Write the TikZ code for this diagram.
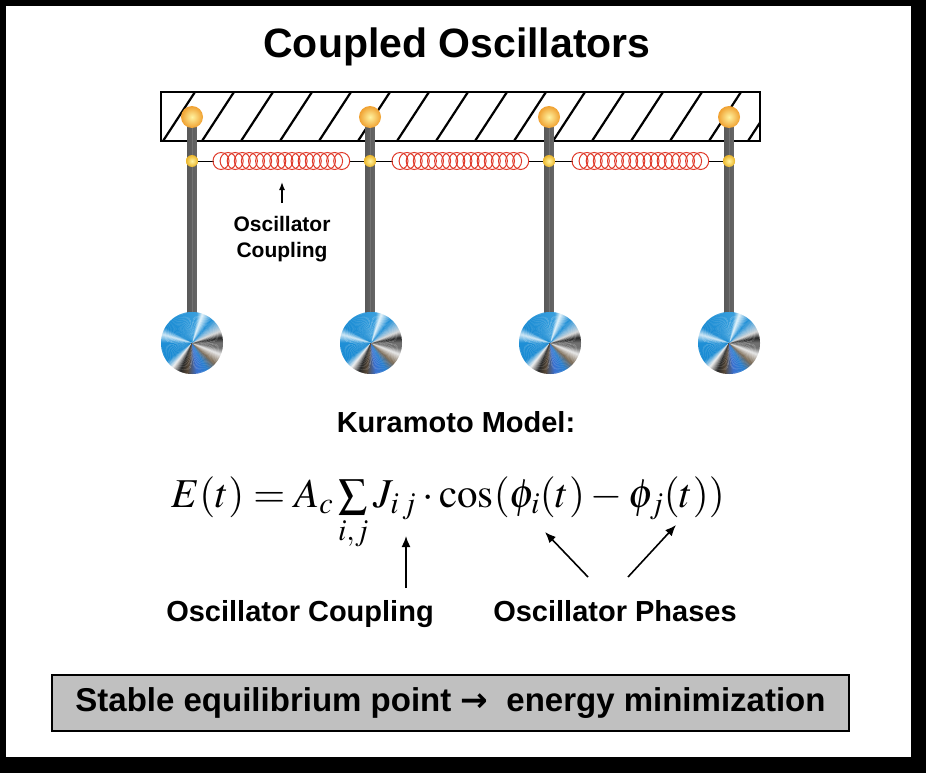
\documentclass[tikz,border=0pt]{standalone}
\usepackage{mathptmx}
\usepackage[no-math]{fontspec}
\setmainfont{Liberation Sans}
\newfontfamily\arrowfont{DejaVu Sans}
\usetikzlibrary{arrows.meta}
\definecolor{mbA}{HTML}{707070}
\definecolor{mbD}{HTML}{262626}
\definecolor{mbL}{HTML}{D8D8D8}
\definecolor{mbS}{HTML}{7FB8DE}
\definecolor{mbB}{HTML}{1F8FD6}
\definecolor{mbW}{HTML}{E6F4FB}
\definecolor{mbC}{HTML}{3AA0DE}
\definecolor{mbE}{HTML}{1A8BD3}
\definecolor{mbK}{HTML}{CFE8F6}
\definecolor{mbX}{HTML}{F0F0F0}
\definecolor{mbN}{HTML}{5A4A38}
\definecolor{mbR}{HTML}{3A70D0}
\definecolor{mbQ}{HTML}{2A80D0}
\definecolor{mbT}{HTML}{7A6A55}
\definecolor{mbG}{HTML}{E8E8E8}
\definecolor{springred}{HTML}{E03A2A}
\definecolor{boxgray}{HTML}{C0C0C0}
\definecolor{knobA}{HTML}{FFF3A0}
\definecolor{knobB}{HTML}{EBB52A}
\definecolor{knobC}{HTML}{F0A030}
\newcommand{\metalball}[1]{%
  \begin{scope}[shift={(#1)}]
    \foreach \a/\b/\ca/\cb in {0/10/mbA/mbD, 10/22/mbD/mbL, 22/36/mbL/mbS, 36/50/mbS/mbB, 50/70/mbB/mbW, 70/80/mbW/mbC, 80/150/mbC/mbE, 150/164/mbE/mbK, 164/180/mbK/mbB, 180/216/mbB/mbE, 216/232/mbE/mbX, 232/248/mbX/mbD, 248/262/mbD/mbN, 262/280/mbN/mbR, 280/300/mbR/mbQ, 300/318/mbQ/mbT, 318/338/mbT/mbG, 338/350/mbG/mbA, 350/360/mbA/mbA} {
      \pgfmathtruncatemacro\n{(\b-\a)/2}
      \foreach \k in {1,...,\n} {
        \pgfmathsetmacro\p{100*(\k-0.5)/\n}
        \pgfmathsetmacro\s{\a+2*(\k-1)}
        \fill[\cb!\p!\ca] (0,0) -- (\s:31pt) arc[start angle=\s, end angle=\s+2.4, radius=31pt] -- cycle;
      }
    }
  \end{scope}}
\newcommand{\coilspring}[1]{%
  \fill[white] (#1+1,152.5) rectangle (#1+136,169.5);
  \foreach \i in {0,...,17} {
    \draw[springc] ({#1+8+\i*7.1},161) ellipse[x radius=8pt, y radius=8.5pt];
  }}
\tikzset{
  springc/.style={draw=springred, line width=1pt},
  arr/.style={-{Latex[length=11pt,width=9pt]}, line width=1.6pt},
  smallarr/.style={-{Latex[length=8pt,width=6pt]}, line width=1.4pt},
  joint/.style={circle, inner sep=0pt, minimum size=12pt, inner color=knobA, outer color=knobB},
  knob/.style={circle, inner sep=0pt, minimum size=22pt, inner color=knobA, outer color=knobC},
  lbl/.style={inner sep=0pt, anchor=base, font=\bfseries\fontsize{29}{35}\selectfont},
  resbox/.style={draw=black, line width=2pt, fill=boxgray, minimum width=797pt, minimum height=56pt, inner sep=0pt, font=\bfseries\fontsize{33}{40}\selectfont}
}
\begin{document}
\begin{tikzpicture}[x=1pt, y=-1pt]
\useasboundingbox (0,0) rectangle (926,773);
\fill[black] (0,0) rectangle (926,773);
\fill[white] (6,6) rectangle (911,757);

% title
\node[inner sep=0pt, anchor=base, font=\bfseries\fontsize{41}{49}\selectfont] (title) at (457,58) {Coupled Oscillators};

% hatched beam
\begin{scope}
  \clip (161,92) rectangle (760,141);
  \foreach \x in {124,163,...,800} {
    \draw[line width=2.2pt] (\x,141) -- (\x+32,92);
  }
\end{scope}
\draw[line width=1.5pt] (161,92) rectangle (760,141);

% joints on coupling line
\node[joint] (j1) at (192,161) {};
\node[joint] (j2) at (370,161) {};
\node[joint] (j3) at (549,161) {};
\node[joint] (j4) at (729,161) {};
\draw[line width=0.8pt] (j1) -- (j2);
\draw[line width=0.8pt] (j2) -- (j3);
\draw[line width=0.8pt] (j3) -- (j4);

% springs
\coilspring{213}
\coilspring{392}
\coilspring{572}

% rods
\foreach \c in {192,370,549,729} {
  \shade[left color=black!65, middle color=black!12, right color=black!60] (\c-4.5,117) rectangle (\c+4.5,314);
  \draw[black!55, line width=0.7pt] (\c,117) -- (\c,314);
}
% joints and knobs on top of the rods
\node[joint] at (j1) {};
\node[joint] at (j2) {};
\node[joint] at (j3) {};
\node[joint] at (j4) {};
\node[knob] (k1) at (192,117) {};
\node[knob] (k2) at (370,117) {};
\node[knob] (k3) at (549,117) {};
\node[knob] (k4) at (729,117) {};

% bobs
\coordinate (b1) at (192,343);
\coordinate (b2) at (371,343);
\coordinate (b3) at (550,343);
\coordinate (b4) at (729,343);
\metalball{b1}
\metalball{b2}
\metalball{b3}
\metalball{b4}

% coupling label under first spring
\node[inner sep=0pt, anchor=north, align=center, font=\bfseries\fontsize{21}{26}\selectfont] (cpl) at (282,216) {Oscillator\\Coupling};
\draw[smallarr] ([yshift=13pt]cpl.north) -- ([yshift=34pt]cpl.north);

% Kuramoto model
\node[lbl] (kura) at (456,432) {Kuramoto Model:};
\node[inner sep=0pt, anchor=base, font=\fontsize{41}{50}\selectfont] (eq) at (448,507)
  {$E(t)=A_c\textstyle\sum\limits_{i,j}J_{i\,j}\cdot\cos(\phi_i(t)-\phi_j(t))$};

\node[lbl] (lcoup) at (300,621) {Oscillator Coupling};
\node[lbl] (lphase) at (615,621) {Oscillator Phases};

\coordinate (cA) at (406,588);
\coordinate (cB) at (406,536);
\coordinate (p1A) at (588,577);
\coordinate (p1B) at (545,532);
\coordinate (p2A) at (628,577);
\coordinate (p2B) at (676,525);
\draw[arr] (cA) -- (cB);
\draw[arr] (p1A) -- (p1B);
\draw[arr] (p2A) -- (p2B);

% result box
\node[resbox] (res) at (450.5,703) {Stable equilibrium point {\arrowfont →}\ \ energy minimization};
\end{tikzpicture}
\end{document}
